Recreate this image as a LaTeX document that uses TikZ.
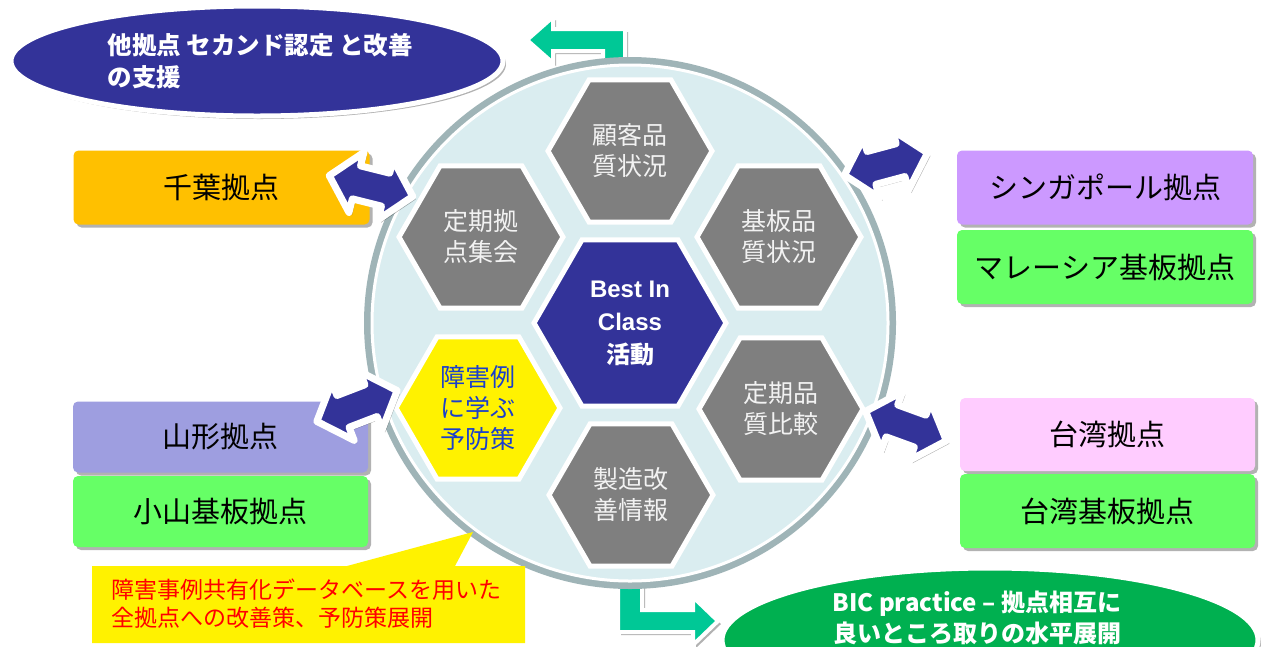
\documentclass[tikz,border=0pt]{standalone}
\usepackage{fontspec}
\newfontfamily\jp{Noto Sans CJK JP}
\newfontfamily\lat{Liberation Sans}
\usetikzlibrary{shapes.geometric,shadows}
\definecolor{navy}{HTML}{333399}
\definecolor{boxorange}{HTML}{FFC000}
\definecolor{boxlav}{HTML}{9E9EE0}
\definecolor{boxgreen}{HTML}{66FF66}
\definecolor{boxpurple}{HTML}{CC99FF}
\definecolor{boxpink}{HTML}{FFCCFF}
\definecolor{arrgreen}{HTML}{00C896}
\definecolor{ellgreen}{HTML}{00B050}
\definecolor{circfill}{HTML}{DAEDF0}
\definecolor{circline}{HTML}{9FB4B7}
\definecolor{hexgray}{HTML}{7F7F7F}
\definecolor{hextext}{HTML}{F2F2F2}
\definecolor{hexblue}{HTML}{1A3FCC}
\newcommand\dblshape{\draw[dblarrow] (-43,0) -- (-15,-31) -- (-15,-17) -- (15,-17) -- (15,-31) -- (43,0)
      -- (15,31) -- (15,17) -- (-15,17) -- (-15,31) -- cycle;}
\begin{document}
\begin{tikzpicture}[x=1pt,y=-1pt,
  softshadow/.style={drop shadow={shadow xshift=3pt,shadow yshift=-3pt,opacity=0.3,fill=black}},
  box/.style={rounded corners=5pt, minimum width=296pt, minimum height=74pt, inner sep=0pt,
    font=\jp\fontsize{29}{34}\selectfont, softshadow},
  hexa/.style={regular polygon, regular polygon sides=6, minimum size=164pt, inner sep=0pt,
    draw=white, line width=5pt, fill=hexgray, text=hextext, align=center,
    font=\jp\fontsize{25}{31}\selectfont},
  dblarrow/.style={fill=navy, draw=white, line width=7pt, line join=round, softshadow},
  greenarrow/.style={fill=arrgreen, draw=white, line width=4pt, softshadow},
  bigell/.style={ellipse, draw=white, line width=5pt, inner sep=0pt, softshadow}
]
\useasboundingbox[fill=white] (0,0) rectangle (1265,646);

% top green bent arrow (behind circle)
\draw[greenarrow] (527,40) -- (553,17) -- (553,29) -- (625,29) -- (625,80) -- (603,80)
   -- (603,51) -- (553,51) -- (553,63) -- cycle;

% bottom green bent arrow (behind circle)
\draw[greenarrow] (618,560) -- (642,560) -- (642,610) -- (693,610) -- (693,597) -- (718,621)
   -- (693,645) -- (693,632) -- (618,632) -- cycle;

% top-left ellipse
\node[bigell, fill=navy, minimum width=492pt, minimum height=110pt] (support) at (257,61) {};
\node[anchor=west, align=left, text=white, font=\jp\bfseries\fontsize{24.5}{32}\selectfont]
  (supporttext) at (104,61) {他拠点 セカンド認定 と改善\\の支援};

% central circle
\node[circle, minimum size=524pt, fill=circfill, draw=circline, line width=8pt] (hub) at (630,323) {};
\draw[white, line width=3pt] (hub.center) circle[radius=258];

% hexagons
\node[hexa] (h1) at (630,151) {顧客品\\質状況};
\node[hexa] (h2) at (481,237) {定期拠\\点集会};
\node[hexa] (h3) at (779,237) {基板品\\質状況};
\node[hexa, fill=yellow, text=hexblue] (h4) at (478,408) {障害例\\に学ぶ\\予防策};
\node[hexa] (h5) at (781,409) {定期品\\質比較};
\node[hexa] (h6) at (631,495) {製造改\\善情報};
\node[hexa, minimum size=192pt, fill=navy, text=white,
  font=\lat\bfseries\fontsize{24}{33}\selectfont] (core) at (630,323)
  {Best In\\Class\\{\jp\bfseries 活動}};

% boxes
\node[box, fill=boxorange] (chiba) at (221.5,187.5) {千葉拠点};
\node[box, fill=boxlav, minimum width=295pt, minimum height=71pt] (yamagata) at (220.5,437) {山形拠点};
\node[box, fill=boxgreen, minimum width=295pt, minimum height=71pt] (oyama) at (220.5,511.5) {小山基板拠点};
\node[box, fill=boxpurple] (singapore) at (1105,187.5) {シンガポール拠点};
\node[box, fill=boxgreen] (malaysia) at (1105,267) {マレーシア基板拠点};
\node[box, fill=boxpink, minimum width=295pt, minimum height=73pt] (taiwan) at (1107.5,434.5) {台湾拠点};
\node[box, fill=boxgreen, minimum width=295pt] (taiwanb) at (1107.5,511) {台湾基板拠点};

% double arrows
\begin{scope}[shift={(371,186)}, rotate=-14]\dblshape\end{scope}
\begin{scope}[shift={(886,164)}, rotate=15]\dblshape\end{scope}
\begin{scope}[shift={(357,406)}, rotate=21]\dblshape\end{scope}
\begin{scope}[shift={(906,426)}, rotate=-20]\dblshape\end{scope}

% callout
\draw[fill=yellow, draw=none] (92,566) -- (347,566) -- (473,532) -- (455,566) -- (525,566)
  -- (525,643) -- (92,643) -- cycle;
\node[anchor=west, align=left, text=red, font=\jp\fontsize{23}{28}\selectfont]
  (calltext) at (108,604) {障害事例共有化データベースを用いた\\全拠点への改善策、予防策展開};

% bottom-right ellipse
\node[bigell, fill=ellgreen, minimum width=536pt, minimum height=144pt] (bic) at (990,640) {};
\node[align=center, text=white, font=\jp\bfseries\fontsize{24}{31}\selectfont]
  (bictext) at (977,618) {BIC practice – 拠点相互に\\良いところ取りの水平展開};
\end{tikzpicture}
\end{document}
